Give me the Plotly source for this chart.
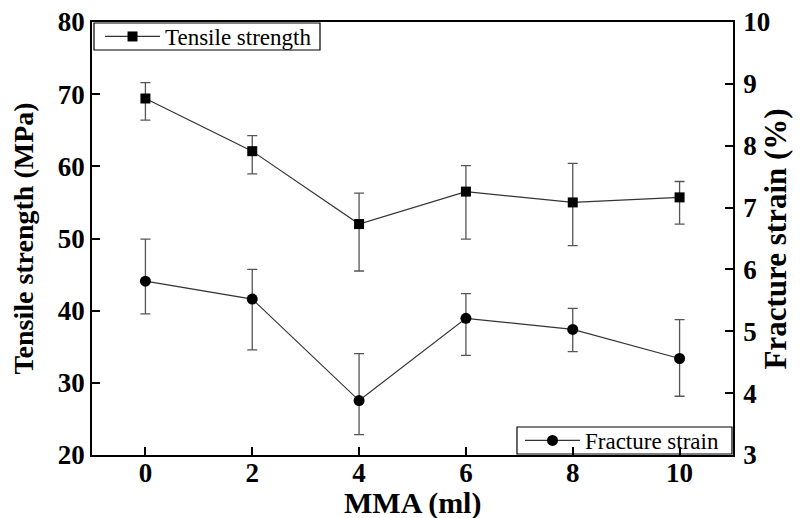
import plotly.graph_objects as go

# MMA content (ml)
mma = [0, 2, 4, 6, 8, 10]

# Tensile strength (MPa) with upper / lower error
tensile = [69.4, 62.1, 52.0, 56.5, 55.0, 55.7]
tensile_err_plus = [2.2, 2.15, 4.3, 3.6, 5.4, 2.2]
tensile_err_minus = [3.0, 3.15, 6.5, 6.6, 6.0, 3.7]

# Fracture strain (%) with upper / lower error
fracture = [5.81, 5.52, 3.88, 5.21, 5.03, 4.56]
fracture_err_plus = [0.68, 0.48, 0.76, 0.40, 0.34, 0.63]
fracture_err_minus = [0.53, 0.82, 0.55, 0.60, 0.36, 0.61]

x_ticks = [0, 2, 4, 6, 8, 10]
y_ticks = [20, 30, 40, 50, 60, 70, 80]
y2_ticks = [3, 4, 5, 6, 7, 8, 9, 10]

SERIF = "Liberation Serif"
line_col = "#333333"
err_col = "#555555"

fig = go.Figure()

fig.add_trace(go.Scatter(
    x=mma, y=tensile, name="Tensile strength", mode="lines+markers",
    line=dict(color=line_col, width=1.2),
    marker=dict(symbol="square", size=10, color="black"),
    error_y=dict(type="data", symmetric=False, array=tensile_err_plus,
                 arrayminus=tensile_err_minus, color=err_col, thickness=1.3, width=5),
    legend="legend", yaxis="y", showlegend=True,
))

fig.add_trace(go.Scatter(
    x=mma, y=fracture, name="Fracture strain", mode="lines+markers",
    line=dict(color=line_col, width=1.2),
    marker=dict(symbol="circle", size=11, color="black"),
    error_y=dict(type="data", symmetric=False, array=fracture_err_plus,
                 arrayminus=fracture_err_minus, color=err_col, thickness=1.3, width=5),
    legend="legend2", yaxis="y2", showlegend=True,
))

tick_font = dict(family=SERIF, size=27, color="black", weight="bold")
ytitle_font = dict(family=SERIF, size=28, color="black", weight="bold")
y2title_font = dict(family=SERIF, size=31, color="black", weight="bold")
xtitle_font = dict(family=SERIF, size=30, color="black", weight="bold")
legend_font = dict(family=SERIF, size=23, color="black")

axis_common = dict(
    ticks="inside", ticklen=8, tickwidth=1.5, tickcolor="black",
    showline=True, linecolor="black", linewidth=1.5,
    showgrid=False, zeroline=False, tickfont=tick_font, automargin=True,
)

# Framed boxes behind the two legends
legend_boxes = [
    dict(x0=0.0031, x1=0.3557, y0=0.9353, y1=0.9977),
    dict(x0=0.6630, x1=0.9984, y0=0.0023, y1=0.0647),
]
shapes = [
    dict(type="rect", xref="paper", yref="paper", layer="below",
         line=dict(color="black", width=1.2), fillcolor="white", **b)
    for b in legend_boxes
]

fig.update_layout(
    width=800, height=518,
    margin=dict(l=92, r=67, t=22, b=63, autoexpand=False),
    paper_bgcolor="white", plot_bgcolor="white",
    showlegend=True,
    shapes=shapes,
    xaxis=dict(
        range=[-1, 11], tickvals=x_ticks, mirror=True, ticklabelstandoff=-7,
        **axis_common,
    ),
    yaxis=dict(
        range=[20, 80], tickvals=y_ticks, mirror=True,
        title=dict(text="Tensile strength (MPa)", font=ytitle_font, standoff=16),
        **axis_common,
    ),
    yaxis2=dict(
        range=[3, 10], tickvals=y2_ticks, overlaying="y", side="right",
        ticklabelstandoff=3,
        **axis_common,
    ),
    annotations=[
        dict(text="Fracture strain (%)", textangle=-90, font=y2title_font,
             xref="paper", yref="paper", x=1.067, y=0.5,
             xanchor="center", yanchor="middle", showarrow=False),
        dict(text="MMA (ml)", font=xtitle_font,
             xref="paper", yref="paper", x=0.5, y=-0.1097,
             xanchor="center", yanchor="middle", showarrow=False),
    ],
    legend=dict(
        x=0.0125, y=0.9665, xanchor="left", yanchor="middle",
        borderwidth=0, bgcolor="rgba(0,0,0,0)",
        font=legend_font, itemwidth=55,
    ),
    legend2=dict(
        x=0.6677, y=0.0335, xanchor="left", yanchor="middle",
        borderwidth=0, bgcolor="rgba(0,0,0,0)",
        font=legend_font, itemwidth=55,
    ),
)

fig.write_html("out.html")
